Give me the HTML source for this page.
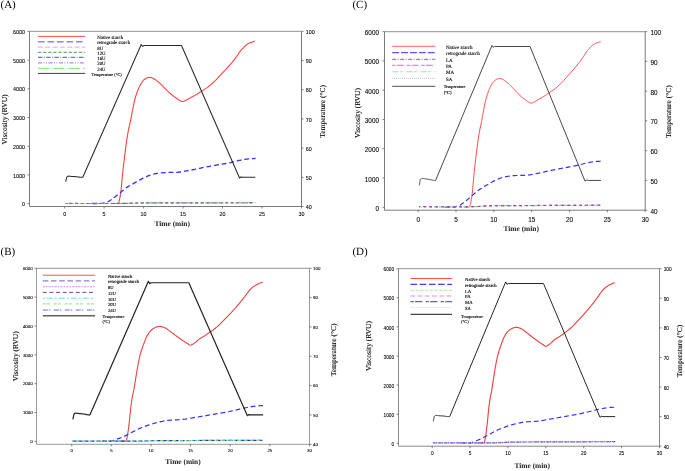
<!DOCTYPE html>
<html><head><meta charset="utf-8"><style>
html,body{margin:0;padding:0;background:#fff;}
svg{display:block;will-change:transform;}
.lg,.ti,.tb,.pl{text-rendering:geometricPrecision;}
.tk{font-family:"Liberation Sans",sans-serif;fill:#000;stroke:#000;stroke-width:0.08px;}
.ti{font-family:"Liberation Serif",serif;font-size:7.5px;fill:#000;stroke:#000;stroke-width:0.1px;}
.tb{font-family:"Liberation Serif",serif;font-size:7.4px;font-weight:bold;fill:#222;}
.pl{font-family:"Liberation Serif",serif;font-size:11px;fill:#000;}
.lg{font-family:"Liberation Serif",serif;fill:#000;stroke:#000;stroke-width:0.12px;}
</style></head><body>
<svg width="685" height="471" viewBox="0 0 685 471">
<rect width="685" height="471" fill="#fff"/>
<path d="M29.5,31.4 H301.5" stroke="#a8a8a8" stroke-width="1.2" fill="none"/>
<path d="M29.5,31.4 V206.5 H301.5 V31.4" stroke="#7a7a7a" stroke-width="1.0" fill="none"/>
<text x="25.00" y="206.26" text-anchor="end" class="tk" font-size="5.35">0</text>
<text x="25.00" y="177.55" text-anchor="end" class="tk" font-size="5.35">1000</text>
<text x="25.00" y="148.85" text-anchor="end" class="tk" font-size="5.35">2000</text>
<text x="25.00" y="120.14" text-anchor="end" class="tk" font-size="5.35">3000</text>
<text x="25.00" y="91.44" text-anchor="end" class="tk" font-size="5.35">4000</text>
<text x="25.00" y="62.73" text-anchor="end" class="tk" font-size="5.35">5000</text>
<text x="25.00" y="34.03" text-anchor="end" class="tk" font-size="5.35">6000</text>
<text x="305.80" y="209.13" class="tk" font-size="5.35">40</text>
<text x="305.80" y="179.94" class="tk" font-size="5.35">50</text>
<text x="305.80" y="150.76" class="tk" font-size="5.35">60</text>
<text x="305.80" y="121.58" class="tk" font-size="5.35">70</text>
<text x="305.80" y="92.39" class="tk" font-size="5.35">80</text>
<text x="305.80" y="63.21" class="tk" font-size="5.35">90</text>
<text x="305.80" y="34.03" class="tk" font-size="5.35">100</text>
<text x="64.63" y="215.73" text-anchor="middle" class="tk" font-size="5.35">0</text>
<text x="104.11" y="215.73" text-anchor="middle" class="tk" font-size="5.35">5</text>
<text x="143.59" y="215.73" text-anchor="middle" class="tk" font-size="5.35">10</text>
<text x="183.07" y="215.73" text-anchor="middle" class="tk" font-size="5.35">15</text>
<text x="222.54" y="215.73" text-anchor="middle" class="tk" font-size="5.35">20</text>
<text x="262.02" y="215.73" text-anchor="middle" class="tk" font-size="5.35">25</text>
<text x="301.50" y="215.73" text-anchor="middle" class="tk" font-size="5.35">30</text>
<path d="M27.50,203.63 H29.5 M27.50,174.92 H29.5 M27.50,146.22 H29.5 M27.50,117.51 H29.5 M27.50,88.81 H29.5 M27.50,60.10 H29.5 M27.50,31.40 H29.5 M301.5,206.50 H303.50 M301.5,177.32 H303.50 M301.5,148.13 H303.50 M301.5,118.95 H303.50 M301.5,89.77 H303.50 M301.5,60.58 H303.50 M301.5,31.40 H303.50 M64.63,206.5 V208.50 M104.11,206.5 V208.50 M143.59,206.5 V208.50 M183.07,206.5 V208.50 M222.54,206.5 V208.50 M262.02,206.5 V208.50 M301.50,206.5 V208.50" stroke="#606060" stroke-width="0.8" fill="none"/>
<text transform="translate(4.2,119.4) rotate(-90)" text-anchor="middle" dominant-baseline="central" class="ti">Viscosity (RVU)</text>
<text transform="translate(322.1,111.4) rotate(-90)" text-anchor="middle" dominant-baseline="central" class="ti">Temperature (°C)</text>
<text x="172.2" y="223.0" text-anchor="middle" dominant-baseline="central" class="tb">Time (min)</text>
<text x="0.5" y="8.2" class="pl">(A)</text>
<path d="M112.01,203.49 L112.33,203.49 L112.77,203.49 L113.30,203.49 L113.87,203.49 L114.46,203.49 L115.03,203.49 L115.54,203.49 L115.96,203.49 L116.28,203.48 L116.57,203.48 L116.81,203.48 L117.02,203.48 L117.20,203.48 L117.37,203.46 L117.53,203.44 L117.69,203.40 L117.84,203.37 L117.97,203.35 L118.08,203.33 L118.18,203.29 L118.27,203.24 L118.36,203.14 L118.45,202.99 L118.56,202.77 L118.68,202.48 L118.80,202.12 L118.92,201.71 L119.04,201.26 L119.16,200.78 L119.28,200.29 L119.40,199.80 L119.51,199.32 L119.61,198.87 L119.71,198.45 L119.81,198.02 L119.90,197.58 L119.99,197.11 L120.09,196.59 L120.19,195.99 L120.30,195.31 L120.42,194.53 L120.54,193.69 L120.67,192.78 L120.80,191.81 L120.94,190.80 L121.07,189.75 L121.20,188.66 L121.32,187.55 L121.45,186.41 L121.57,185.20 L121.68,183.94 L121.80,182.66 L121.91,181.35 L122.03,180.04 L122.15,178.74 L122.27,177.45 L122.39,176.19 L122.51,174.95 L122.63,173.71 L122.75,172.47 L122.88,171.21 L123.01,169.93 L123.15,168.60 L123.30,167.23 L123.46,165.80 L123.64,164.32 L123.82,162.80 L124.01,161.26 L124.21,159.70 L124.41,158.13 L124.60,156.57 L124.80,155.03 L124.99,153.51 L125.18,151.98 L125.37,150.45 L125.56,148.92 L125.75,147.39 L125.95,145.87 L126.16,144.34 L126.38,142.80 L126.60,141.26 L126.83,139.71 L127.07,138.14 L127.31,136.58 L127.56,135.03 L127.82,133.50 L128.08,131.99 L128.35,130.52 L128.64,129.06 L128.95,127.61 L129.28,126.17 L129.61,124.76 L129.93,123.37 L130.24,122.03 L130.54,120.75 L130.80,119.52 L131.03,118.40 L131.22,117.37 L131.40,116.41 L131.56,115.48 L131.73,114.56 L131.90,113.61 L132.08,112.59 L132.30,111.49 L132.54,110.26 L132.80,108.94 L133.08,107.55 L133.37,106.14 L133.66,104.73 L133.95,103.36 L134.23,102.06 L134.51,100.87 L134.78,99.77 L135.05,98.74 L135.32,97.76 L135.58,96.83 L135.85,95.94 L136.11,95.09 L136.38,94.26 L136.64,93.46 L136.91,92.69 L137.18,91.96 L137.44,91.27 L137.71,90.61 L137.98,89.97 L138.25,89.35 L138.51,88.75 L138.77,88.15 L139.03,87.57 L139.28,87.01 L139.52,86.47 L139.77,85.94 L140.01,85.43 L140.27,84.93 L140.54,84.43 L140.83,83.93 L141.13,83.43 L141.44,82.93 L141.76,82.43 L142.09,81.94 L142.44,81.46 L142.79,81.01 L143.14,80.59 L143.51,80.20 L143.89,79.84 L144.28,79.51 L144.69,79.21 L145.10,78.93 L145.52,78.67 L145.93,78.44 L146.34,78.23 L146.75,78.05 L147.15,77.89 L147.54,77.75 L147.93,77.64 L148.33,77.55 L148.72,77.49 L149.11,77.45 L149.51,77.44 L149.91,77.44 L150.31,77.47 L150.71,77.53 L151.12,77.62 L151.53,77.72 L151.94,77.85 L152.34,78.00 L152.75,78.16 L153.14,78.33 L153.53,78.52 L153.91,78.73 L154.28,78.96 L154.65,79.20 L155.02,79.47 L155.41,79.74 L155.80,80.03 L156.22,80.34 L156.66,80.66 L157.11,81.00 L157.57,81.35 L158.05,81.71 L158.53,82.10 L159.02,82.50 L159.52,82.92 L160.01,83.36 L160.52,83.82 L161.03,84.32 L161.55,84.84 L162.07,85.37 L162.60,85.92 L163.13,86.46 L163.66,87.01 L164.20,87.55 L164.73,88.08 L165.28,88.63 L165.82,89.18 L166.37,89.73 L166.92,90.28 L167.46,90.82 L168.00,91.34 L168.54,91.85 L169.07,92.35 L169.60,92.84 L170.12,93.32 L170.64,93.78 L171.16,94.24 L171.68,94.69 L172.20,95.13 L172.72,95.56 L173.25,95.97 L173.79,96.38 L174.34,96.78 L174.88,97.16 L175.41,97.54 L175.93,97.90 L176.43,98.24 L176.91,98.57 L177.36,98.88 L177.80,99.19 L178.22,99.48 L178.62,99.75 L179.01,100.01 L179.40,100.25 L179.77,100.47 L180.15,100.66 L180.51,100.85 L180.86,101.02 L181.20,101.17 L181.53,101.30 L181.85,101.41 L182.18,101.49 L182.50,101.54 L182.83,101.55 L183.14,101.54 L183.42,101.49 L183.68,101.42 L183.95,101.32 L184.24,101.18 L184.58,101.02 L184.97,100.82 L185.44,100.58 L185.99,100.29 L186.62,99.96 L187.30,99.58 L188.03,99.17 L188.78,98.75 L189.54,98.32 L190.30,97.89 L191.04,97.48 L191.77,97.08 L192.52,96.68 L193.27,96.28 L194.03,95.87 L194.79,95.46 L195.54,95.04 L196.30,94.62 L197.04,94.18 L197.78,93.73 L198.51,93.27 L199.24,92.80 L199.96,92.32 L200.69,91.84 L201.42,91.35 L202.15,90.85 L202.89,90.36 L203.63,89.87 L204.38,89.38 L205.13,88.89 L205.88,88.40 L206.63,87.89 L207.39,87.37 L208.14,86.82 L208.89,86.26 L209.63,85.66 L210.37,85.05 L211.11,84.42 L211.85,83.77 L212.59,83.11 L213.33,82.43 L214.07,81.74 L214.81,81.03 L215.55,80.30 L216.29,79.55 L217.02,78.79 L217.76,78.01 L218.50,77.22 L219.24,76.42 L219.99,75.62 L220.73,74.83 L221.48,74.04 L222.23,73.25 L222.98,72.45 L223.73,71.65 L224.48,70.84 L225.23,70.03 L225.98,69.22 L226.73,68.40 L227.48,67.57 L228.25,66.73 L229.02,65.88 L229.78,65.02 L230.54,64.18 L231.27,63.34 L231.98,62.51 L232.65,61.71 L233.29,60.93 L233.91,60.15 L234.51,59.38 L235.08,58.62 L235.64,57.88 L236.17,57.16 L236.67,56.47 L237.15,55.80 L237.60,55.16 L238.01,54.54 L238.39,53.95 L238.75,53.38 L239.10,52.82 L239.44,52.29 L239.79,51.78 L240.15,51.29 L240.52,50.83 L240.89,50.40 L241.25,49.99 L241.61,49.61 L241.98,49.23 L242.34,48.86 L242.70,48.49 L243.07,48.11 L243.44,47.71 L243.82,47.31 L244.19,46.91 L244.57,46.52 L244.95,46.13 L245.32,45.76 L245.70,45.41 L246.07,45.09 L246.45,44.80 L246.83,44.52 L247.20,44.26 L247.58,44.02 L247.95,43.80 L248.33,43.59 L248.70,43.39 L249.07,43.20 L249.44,43.02 L249.81,42.86 L250.17,42.72 L250.53,42.59 L250.90,42.47 L251.26,42.35 L251.63,42.23 L252.00,42.11 L252.39,41.98 L252.81,41.84 L253.25,41.71 L253.68,41.58 L254.09,41.46 L254.45,41.35 L254.76,41.26 L255.00,41.19" stroke="#ff4040" stroke-width="1.1" fill="none"/>
<path d="M92.27,203.49 L92.70,203.49 L93.29,203.49 L93.99,203.49 L94.77,203.49 L95.57,203.50 L96.37,203.50 L97.13,203.49 L97.80,203.49 L98.39,203.48 L98.97,203.48 L99.52,203.47 L100.05,203.47 L100.56,203.46 L101.07,203.43 L101.57,203.40 L102.06,203.34 L102.55,203.27 L103.02,203.19 L103.48,203.09 L103.93,202.99 L104.37,202.87 L104.82,202.75 L105.25,202.62 L105.69,202.48 L106.11,202.35 L106.50,202.24 L106.87,202.12 L107.25,202.00 L107.64,201.84 L108.07,201.65 L108.55,201.41 L109.09,201.10 L109.70,200.72 L110.38,200.28 L111.10,199.79 L111.86,199.26 L112.63,198.70 L113.41,198.13 L114.18,197.56 L114.93,197.00 L115.66,196.44 L116.39,195.86 L117.12,195.28 L117.86,194.68 L118.59,194.08 L119.32,193.48 L120.05,192.88 L120.77,192.29 L121.50,191.69 L122.21,191.09 L122.93,190.47 L123.65,189.86 L124.37,189.26 L125.09,188.68 L125.81,188.11 L126.54,187.58 L127.26,187.09 L127.98,186.64 L128.70,186.20 L129.42,185.79 L130.15,185.38 L130.90,184.97 L131.66,184.54 L132.46,184.08 L133.28,183.60 L134.14,183.10 L135.01,182.59 L135.90,182.07 L136.80,181.55 L137.70,181.04 L138.60,180.54 L139.48,180.06 L140.36,179.59 L141.24,179.13 L142.12,178.66 L143.00,178.21 L143.88,177.77 L144.76,177.35 L145.64,176.94 L146.51,176.56 L147.38,176.20 L148.25,175.85 L149.12,175.52 L149.99,175.21 L150.85,174.92 L151.72,174.64 L152.59,174.38 L153.46,174.15 L154.33,173.94 L155.21,173.75 L156.09,173.59 L156.97,173.44 L157.85,173.31 L158.73,173.19 L159.61,173.08 L160.49,172.97 L161.34,172.87 L162.16,172.79 L162.97,172.72 L163.78,172.65 L164.62,172.60 L165.51,172.55 L166.47,172.50 L167.51,172.46 L168.68,172.42 L169.96,172.41 L171.31,172.41 L172.71,172.40 L174.11,172.40 L175.49,172.37 L176.80,172.33 L178.01,172.26 L179.13,172.15 L180.17,172.01 L181.17,171.86 L182.13,171.68 L183.07,171.50 L184.00,171.32 L184.94,171.14 L185.91,170.96 L186.89,170.79 L187.87,170.63 L188.84,170.46 L189.82,170.29 L190.79,170.11 L191.77,169.93 L192.75,169.75 L193.73,169.56 L194.71,169.36 L195.69,169.15 L196.68,168.94 L197.67,168.72 L198.66,168.50 L199.65,168.28 L200.63,168.07 L201.62,167.86 L202.61,167.66 L203.60,167.47 L204.58,167.28 L205.57,167.08 L206.56,166.90 L207.54,166.71 L208.53,166.53 L209.52,166.34 L210.50,166.16 L211.49,165.98 L212.48,165.80 L213.47,165.63 L214.45,165.46 L215.44,165.28 L216.43,165.11 L217.41,164.94 L218.40,164.76 L219.38,164.59 L220.37,164.43 L221.36,164.26 L222.34,164.09 L223.33,163.92 L224.32,163.74 L225.31,163.56 L226.30,163.37 L227.30,163.18 L228.30,162.98 L229.31,162.79 L230.31,162.58 L231.30,162.38 L232.30,162.17 L233.28,161.95 L234.26,161.72 L235.23,161.48 L236.19,161.23 L237.16,160.98 L238.12,160.73 L239.08,160.49 L240.05,160.26 L241.02,160.06 L242.01,159.87 L243.01,159.69 L244.03,159.52 L245.04,159.36 L246.04,159.21 L247.03,159.08 L247.99,158.96 L248.92,158.85 L249.85,158.76 L250.82,158.68 L251.79,158.62 L252.73,158.57 L253.60,158.53 L254.39,158.50 L255.05,158.47 L255.55,158.45" stroke="#3030ff" stroke-width="1.3" fill="none" stroke-dasharray="4.8,2.9"/>
<path d="M65.42,203.49 L69.86,203.49 L76.03,203.50 L83.39,203.51 L91.43,203.52 L99.62,203.52 L107.45,203.52 L114.38,203.51 L119.90,203.49 L123.82,203.45 L126.54,203.39 L128.46,203.32 L129.97,203.25 L131.45,203.18 L133.30,203.11 L135.90,203.04 L139.64,203.00 L144.46,202.97 L149.95,202.94 L156.00,202.93 L162.51,202.92 L169.38,202.91 L176.48,202.90 L183.71,202.89 L190.96,202.88 L198.82,202.87 L207.64,202.85 L216.97,202.84 L226.34,202.82 L235.32,202.80 L243.44,202.79 L250.26,202.78 L255.31,202.77" stroke="#40c040" stroke-width="1.2" fill="none" stroke-dasharray="3,2" stroke-dashoffset="0"/>
<path d="M65.42,203.46 L69.86,203.46 L76.03,203.47 L83.39,203.48 L91.43,203.49 L99.62,203.50 L107.45,203.49 L114.38,203.48 L119.90,203.46 L123.82,203.41 L126.54,203.36 L128.46,203.28 L129.97,203.21 L131.45,203.13 L133.30,203.05 L135.90,202.99 L139.64,202.94 L144.46,202.91 L149.95,202.88 L156.00,202.87 L162.51,202.86 L169.38,202.85 L176.48,202.85 L183.71,202.84 L190.96,202.83 L198.82,202.81 L207.64,202.79 L216.97,202.78 L226.34,202.76 L235.32,202.75 L243.44,202.73 L250.26,202.72 L255.31,202.71" stroke="#a050d0" stroke-width="1.2" fill="none" stroke-dasharray="3,3" stroke-dashoffset="2.5"/>
<path d="M65.74,181.69 L65.79,181.44 L65.86,181.08 L65.94,180.65 L66.03,180.20 L66.12,179.76 L66.21,179.36 L66.31,178.99 L66.40,178.62 L66.50,178.26 L66.61,177.91 L66.72,177.59 L66.85,177.32 L66.98,177.08 L67.11,176.87 L67.26,176.69 L67.42,176.53 L67.60,176.40 L67.79,176.30 L68.01,176.22 L68.24,176.17 L68.49,176.14 L68.76,176.13 L69.06,176.14 L69.37,176.15 L69.69,176.17 L70.02,176.21 L70.36,176.27 L70.75,176.33 L71.20,176.39 L71.74,176.44 L72.40,176.49 L73.17,176.53 L74.01,176.57 L74.87,176.62 L75.71,176.67 L76.48,176.73 L77.20,176.81 L77.91,176.91 L78.60,177.01 L79.26,177.11 L79.87,177.20 L80.43,177.26 L80.94,177.30 L81.42,177.31 L81.86,177.32 L82.24,177.32 L82.56,177.32 L82.79,177.32 L141.22,44.53 L142.56,46.43 L143.98,45.52 L181.49,45.52 L239.52,178.05 L240.70,177.02 L243.47,177.32 L255.31,177.32" stroke="#2a2a2a" stroke-width="1.05" fill="none" stroke-linejoin="round"/>
<path d="M38,36.4 H85.2" stroke="#ff5050" stroke-width="1.0" fill="none"/>
<text x="97.2" y="38.87" class="lg" font-size="4.9">Native starch</text>
<path d="M38,41.7 H85.2" stroke="#8888ee" stroke-width="1.6" fill="none" stroke-dasharray="6.6,2.9"/>
<text x="97.2" y="44.17" class="lg" font-size="4.9">retrograde starch</text>
<path d="M38,47.2 H85.2" stroke="#f0a0f0" stroke-width="1.0" fill="none" stroke-dasharray="5,2.3"/>
<text x="97.2" y="49.67" class="lg" font-size="4.9">8U</text>
<path d="M38,52.3 H85.2" stroke="#40a040" stroke-width="1.0" fill="none" stroke-dasharray="3.3,1.8"/>
<text x="97.2" y="54.77" class="lg" font-size="4.9">12U</text>
<path d="M38,57.4 H85.2" stroke="#7070c8" stroke-width="1.2" fill="none" stroke-dasharray="4.4,1.5,0.8,1.5"/>
<text x="97.2" y="59.87" class="lg" font-size="4.9">16U</text>
<path d="M38,62.8 H85.2" stroke="#b090d0" stroke-width="1.2" fill="none" stroke-dasharray="4,1.5,1,1.5,1,1.5"/>
<text x="97.2" y="65.27" class="lg" font-size="4.9">20U</text>
<path d="M38,68.4 H85.2" stroke="#70f070" stroke-width="1.0" fill="none" stroke-dasharray="5.8,0.7,5,3.6"/>
<text x="97.2" y="70.87" class="lg" font-size="4.9">24U</text>
<path d="M38,73.4 H85.2" stroke="#404040" stroke-width="1.0" fill="none"/>
<text x="91.6" y="75.99" class="lg" font-size="4.3">Temperature (°C)</text>
<path d="M36.5,268.3 H309.5" stroke="#a8a8a8" stroke-width="1.2" fill="none"/>
<path d="M36.5,268.3 V444.3 H309.5 V268.3" stroke="#999999" stroke-width="1.0" fill="none"/>
<text x="32.70" y="443.20" text-anchor="end" class="tk" font-size="4.4">0</text>
<text x="32.70" y="414.35" text-anchor="end" class="tk" font-size="4.4">1000</text>
<text x="32.70" y="385.49" text-anchor="end" class="tk" font-size="4.4">2000</text>
<text x="32.70" y="356.64" text-anchor="end" class="tk" font-size="4.4">3000</text>
<text x="32.70" y="327.79" text-anchor="end" class="tk" font-size="4.4">4000</text>
<text x="32.70" y="298.94" text-anchor="end" class="tk" font-size="4.4">5000</text>
<text x="32.70" y="270.08" text-anchor="end" class="tk" font-size="4.4">6000</text>
<text x="313.10" y="446.08" class="tk" font-size="4.4">40</text>
<text x="313.10" y="416.75" class="tk" font-size="4.4">50</text>
<text x="313.10" y="387.42" class="tk" font-size="4.4">60</text>
<text x="313.10" y="358.08" class="tk" font-size="4.4">70</text>
<text x="313.10" y="328.75" class="tk" font-size="4.4">80</text>
<text x="313.10" y="299.42" class="tk" font-size="4.4">90</text>
<text x="313.10" y="270.08" class="tk" font-size="4.4">100</text>
<text x="71.76" y="451.78" text-anchor="middle" class="tk" font-size="4.4">0</text>
<text x="111.39" y="451.78" text-anchor="middle" class="tk" font-size="4.4">5</text>
<text x="151.01" y="451.78" text-anchor="middle" class="tk" font-size="4.4">10</text>
<text x="190.63" y="451.78" text-anchor="middle" class="tk" font-size="4.4">15</text>
<text x="230.25" y="451.78" text-anchor="middle" class="tk" font-size="4.4">20</text>
<text x="269.88" y="451.78" text-anchor="middle" class="tk" font-size="4.4">25</text>
<text x="309.50" y="451.78" text-anchor="middle" class="tk" font-size="4.4">30</text>
<path d="M34.50,441.41 H36.5 M34.50,412.56 H36.5 M34.50,383.71 H36.5 M34.50,354.86 H36.5 M34.50,326.00 H36.5 M34.50,297.15 H36.5 M34.50,268.30 H36.5 M309.5,444.30 H311.50 M309.5,414.97 H311.50 M309.5,385.63 H311.50 M309.5,356.30 H311.50 M309.5,326.97 H311.50 M309.5,297.63 H311.50 M309.5,268.30 H311.50 M71.76,444.3 V446.30 M111.39,444.3 V446.30 M151.01,444.3 V446.30 M190.63,444.3 V446.30 M230.25,444.3 V446.30 M269.88,444.3 V446.30 M309.50,444.3 V446.30" stroke="#606060" stroke-width="0.8" fill="none"/>
<text transform="translate(15.3,356.2) rotate(-90)" text-anchor="middle" dominant-baseline="central" class="ti">Viscosity (RVU)</text>
<text transform="translate(333.1,349.9) rotate(-90)" text-anchor="middle" dominant-baseline="central" class="ti">Temperature (°C)</text>
<text x="183.0" y="461.1" text-anchor="middle" dominant-baseline="central" class="tb">Time (min)</text>
<text x="0.5" y="254.8" class="pl">(B)</text>
<path d="M119.31,441.13 L119.63,441.13 L120.07,441.13 L120.59,441.13 L121.17,441.14 L121.76,441.14 L122.33,441.14 L122.85,441.13 L123.27,441.13 L123.62,441.12 L123.93,441.12 L124.20,441.12 L124.44,441.12 L124.66,441.11 L124.86,441.08 L125.06,441.04 L125.25,440.98 L125.44,440.93 L125.61,440.89 L125.76,440.85 L125.90,440.79 L126.04,440.69 L126.17,440.54 L126.30,440.30 L126.44,439.97 L126.59,439.55 L126.72,439.04 L126.86,438.47 L127.00,437.84 L127.13,437.15 L127.27,436.41 L127.41,435.63 L127.55,434.81 L127.70,433.94 L127.84,433.02 L127.99,432.05 L128.14,431.03 L128.29,429.97 L128.44,428.87 L128.59,427.74 L128.74,426.58 L128.89,425.38 L129.04,424.12 L129.19,422.81 L129.34,421.48 L129.49,420.12 L129.64,418.76 L129.79,417.41 L129.93,416.08 L130.07,414.75 L130.21,413.40 L130.35,412.04 L130.48,410.69 L130.62,409.35 L130.76,408.05 L130.90,406.78 L131.04,405.58 L131.18,404.43 L131.32,403.33 L131.47,402.27 L131.61,401.25 L131.76,400.25 L131.91,399.27 L132.06,398.31 L132.23,397.36 L132.40,396.46 L132.57,395.63 L132.75,394.85 L132.94,394.07 L133.13,393.27 L133.32,392.41 L133.52,391.46 L133.73,390.37 L133.95,389.15 L134.18,387.81 L134.42,386.38 L134.66,384.89 L134.91,383.37 L135.15,381.84 L135.40,380.33 L135.64,378.86 L135.87,377.42 L136.11,375.96 L136.35,374.50 L136.59,373.05 L136.82,371.60 L137.06,370.19 L137.30,368.80 L137.54,367.47 L137.77,366.17 L138.01,364.89 L138.24,363.64 L138.48,362.43 L138.71,361.24 L138.95,360.08 L139.19,358.95 L139.44,357.86 L139.68,356.81 L139.93,355.82 L140.17,354.86 L140.42,353.93 L140.67,353.02 L140.93,352.10 L141.21,351.18 L141.50,350.24 L141.81,349.28 L142.14,348.30 L142.48,347.31 L142.84,346.33 L143.20,345.36 L143.56,344.39 L143.92,343.45 L144.27,342.54 L144.62,341.64 L144.96,340.76 L145.30,339.89 L145.64,339.04 L145.98,338.21 L146.34,337.40 L146.72,336.61 L147.13,335.84 L147.55,335.09 L147.99,334.36 L148.44,333.64 L148.90,332.94 L149.39,332.27 L149.88,331.63 L150.40,331.03 L150.93,330.48 L151.49,329.96 L152.07,329.47 L152.67,329.02 L153.29,328.60 L153.91,328.22 L154.54,327.88 L155.16,327.57 L155.76,327.30 L156.36,327.08 L156.96,326.89 L157.55,326.74 L158.14,326.62 L158.73,326.54 L159.33,326.50 L159.92,326.50 L160.52,326.52 L161.12,326.59 L161.73,326.70 L162.33,326.84 L162.94,327.02 L163.55,327.24 L164.15,327.47 L164.76,327.74 L165.35,328.02 L165.94,328.34 L166.53,328.70 L167.11,329.09 L167.69,329.51 L168.27,329.94 L168.85,330.38 L169.44,330.82 L170.03,331.26 L170.63,331.70 L171.23,332.15 L171.83,332.61 L172.44,333.08 L173.05,333.55 L173.66,334.01 L174.26,334.47 L174.86,334.92 L175.46,335.36 L176.05,335.79 L176.65,336.22 L177.24,336.65 L177.83,337.07 L178.42,337.49 L179.02,337.91 L179.62,338.32 L180.22,338.75 L180.84,339.18 L181.47,339.60 L182.09,340.03 L182.71,340.45 L183.31,340.86 L183.90,341.25 L184.45,341.61 L184.99,341.97 L185.51,342.31 L186.02,342.64 L186.51,342.96 L186.98,343.26 L187.43,343.54 L187.85,343.80 L188.25,344.04 L188.61,344.27 L188.90,344.50 L189.16,344.72 L189.41,344.92 L189.66,345.08 L189.93,345.19 L190.25,345.23 L190.63,345.19 L191.08,345.07 L191.57,344.87 L192.10,344.60 L192.66,344.29 L193.24,343.93 L193.83,343.55 L194.41,343.15 L194.99,342.74 L195.57,342.30 L196.15,341.82 L196.75,341.30 L197.35,340.76 L197.95,340.21 L198.55,339.68 L199.15,339.18 L199.75,338.73 L200.33,338.32 L200.92,337.95 L201.50,337.61 L202.08,337.28 L202.67,336.96 L203.25,336.63 L203.83,336.29 L204.42,335.93 L205.01,335.55 L205.60,335.16 L206.19,334.77 L206.79,334.37 L207.38,333.97 L207.98,333.56 L208.58,333.14 L209.18,332.73 L209.78,332.31 L210.38,331.89 L210.98,331.46 L211.59,331.03 L212.19,330.60 L212.80,330.15 L213.40,329.70 L214.01,329.24 L214.61,328.77 L215.22,328.29 L215.83,327.80 L216.43,327.31 L217.04,326.81 L217.64,326.30 L218.24,325.77 L218.84,325.23 L219.44,324.66 L220.04,324.08 L220.63,323.49 L221.23,322.88 L221.82,322.27 L222.41,321.65 L223.00,321.04 L223.60,320.44 L224.19,319.84 L224.78,319.24 L225.38,318.65 L225.97,318.05 L226.56,317.45 L227.16,316.85 L227.75,316.24 L228.35,315.62 L228.95,314.99 L229.56,314.35 L230.16,313.71 L230.77,313.06 L231.38,312.40 L231.98,311.75 L232.59,311.09 L233.19,310.42 L233.78,309.76 L234.38,309.10 L234.97,308.44 L235.56,307.77 L236.16,307.09 L236.75,306.41 L237.34,305.73 L237.94,305.03 L238.54,304.33 L239.14,303.62 L239.75,302.90 L240.35,302.18 L240.96,301.45 L241.57,300.71 L242.17,299.96 L242.78,299.20 L243.39,298.42 L244.00,297.60 L244.63,296.77 L245.25,295.93 L245.86,295.10 L246.46,294.29 L247.05,293.52 L247.61,292.80 L248.15,292.11 L248.66,291.45 L249.16,290.82 L249.65,290.21 L250.13,289.64 L250.61,289.09 L251.09,288.57 L251.57,288.09 L252.06,287.65 L252.55,287.26 L253.03,286.90 L253.51,286.57 L254.00,286.27 L254.48,285.97 L254.97,285.68 L255.45,285.38 L255.95,285.08 L256.46,284.79 L256.97,284.50 L257.48,284.23 L257.98,283.96 L258.47,283.72 L258.96,283.49 L259.42,283.27 L259.88,283.08 L260.36,282.90 L260.83,282.74 L261.29,282.59 L261.72,282.46 L262.10,282.35 L262.42,282.26 L262.67,282.18" stroke="#ee4242" stroke-width="1.1" fill="none"/>
<path d="M101.88,441.13 L102.31,441.13 L102.90,441.13 L103.60,441.13 L104.37,441.14 L105.18,441.14 L105.99,441.14 L106.75,441.13 L107.42,441.13 L108.02,441.13 L108.58,441.15 L109.11,441.17 L109.63,441.18 L110.15,441.18 L110.68,441.16 L111.25,441.09 L111.86,440.98 L112.52,440.82 L113.21,440.60 L113.93,440.35 L114.66,440.08 L115.41,439.79 L116.16,439.49 L116.91,439.19 L117.65,438.90 L118.38,438.63 L119.13,438.36 L119.87,438.09 L120.62,437.81 L121.37,437.52 L122.11,437.23 L122.85,436.92 L123.59,436.60 L124.32,436.25 L125.05,435.89 L125.77,435.52 L126.49,435.13 L127.21,434.75 L127.93,434.36 L128.65,433.97 L129.38,433.60 L130.10,433.23 L130.82,432.86 L131.54,432.50 L132.26,432.13 L132.98,431.77 L133.70,431.41 L134.43,431.05 L135.16,430.68 L135.90,430.31 L136.64,429.93 L137.38,429.55 L138.13,429.17 L138.88,428.80 L139.63,428.44 L140.37,428.09 L141.10,427.77 L141.83,427.47 L142.56,427.19 L143.28,426.92 L144.00,426.67 L144.72,426.43 L145.44,426.18 L146.16,425.94 L146.89,425.69 L147.62,425.43 L148.35,425.17 L149.09,424.92 L149.82,424.66 L150.56,424.41 L151.29,424.16 L152.02,423.92 L152.75,423.70 L153.48,423.49 L154.20,423.28 L154.93,423.09 L155.65,422.90 L156.37,422.72 L157.09,422.54 L157.82,422.37 L158.54,422.20 L159.26,422.03 L159.98,421.87 L160.70,421.71 L161.43,421.55 L162.15,421.40 L162.87,421.25 L163.60,421.12 L164.32,420.99 L165.05,420.86 L165.78,420.74 L166.52,420.63 L167.25,420.53 L167.99,420.43 L168.72,420.34 L169.46,420.25 L170.19,420.18 L170.90,420.12 L171.60,420.08 L172.29,420.04 L172.98,420.02 L173.68,419.99 L174.41,419.97 L175.17,419.93 L175.97,419.89 L176.82,419.84 L177.70,419.80 L178.60,419.75 L179.54,419.70 L180.49,419.64 L181.46,419.57 L182.44,419.48 L183.42,419.37 L184.42,419.24 L185.44,419.09 L186.47,418.92 L187.52,418.73 L188.58,418.55 L189.64,418.36 L190.69,418.17 L191.74,417.99 L192.79,417.81 L193.84,417.63 L194.89,417.46 L195.94,417.28 L196.99,417.10 L198.05,416.92 L199.09,416.75 L200.14,416.57 L201.19,416.40 L202.23,416.23 L203.27,416.05 L204.31,415.88 L205.35,415.71 L206.38,415.54 L207.42,415.36 L208.46,415.19 L209.50,415.01 L210.54,414.84 L211.59,414.66 L212.63,414.48 L213.67,414.30 L214.71,414.13 L215.75,413.95 L216.78,413.77 L217.82,413.60 L218.85,413.44 L219.87,413.27 L220.90,413.11 L221.93,412.94 L222.95,412.77 L223.99,412.58 L225.02,412.39 L226.07,412.18 L227.12,411.97 L228.17,411.74 L229.22,411.51 L230.27,411.28 L231.33,411.04 L232.38,410.81 L233.42,410.57 L234.47,410.34 L235.51,410.10 L236.55,409.86 L237.59,409.62 L238.63,409.38 L239.67,409.14 L240.71,408.90 L241.75,408.67 L242.79,408.43 L243.83,408.19 L244.87,407.95 L245.91,407.72 L246.95,407.49 L247.99,407.27 L249.03,407.06 L250.07,406.88 L251.12,406.71 L252.21,406.55 L253.31,406.41 L254.40,406.28 L255.46,406.16 L256.48,406.05 L257.44,405.95 L258.31,405.87 L259.11,405.80 L259.89,405.74 L260.61,405.69 L261.28,405.66 L261.88,405.64 L262.42,405.61 L262.86,405.60 L263.22,405.58" stroke="#3030ff" stroke-width="1.2" fill="none" stroke-dasharray="4.8,2.9"/>
<path d="M72.56,441.13 L77.68,441.13 L84.81,441.14 L93.33,441.15 L102.62,441.15 L112.07,441.16 L121.05,441.16 L128.95,441.15 L135.16,441.13 L139.52,441.09 L142.56,441.04 L144.68,440.99 L146.25,440.92 L147.68,440.86 L149.35,440.80 L151.65,440.74 L154.97,440.69 L159.14,440.66 L163.70,440.62 L168.65,440.60 L173.97,440.57 L179.63,440.55 L185.63,440.53 L191.94,440.50 L198.56,440.48 L206.07,440.45 L214.74,440.42 L224.08,440.39 L233.57,440.36 L242.73,440.33 L251.04,440.30 L258.02,440.28 L263.14,440.26" stroke="#3030c0" stroke-width="1.2" fill="none" stroke-dasharray="4,2" stroke-dashoffset="0"/>
<path d="M72.56,441.07 L77.68,441.07 L84.81,441.08 L93.33,441.09 L102.62,441.09 L112.07,441.10 L121.05,441.09 L128.95,441.09 L135.16,441.07 L139.52,441.04 L142.56,441.00 L144.68,440.95 L146.25,440.90 L147.68,440.84 L149.35,440.79 L151.65,440.74 L154.97,440.69 L159.14,440.66 L163.70,440.62 L168.65,440.59 L173.97,440.56 L179.63,440.53 L185.63,440.51 L191.94,440.48 L198.56,440.45 L206.07,440.42 L214.74,440.38 L224.08,440.35 L233.57,440.31 L242.73,440.28 L251.04,440.25 L258.02,440.22 L263.14,440.20" stroke="#50d0d0" stroke-width="1.2" fill="none" stroke-dasharray="2,4" stroke-dashoffset="1"/>
<path d="M72.56,441.13 L77.68,441.13 L84.81,441.14 L93.33,441.14 L102.62,441.15 L112.07,441.16 L121.05,441.15 L128.95,441.15 L135.16,441.13 L139.52,441.09 L142.56,441.05 L144.68,441.00 L146.25,440.94 L147.68,440.88 L149.35,440.82 L151.65,440.77 L154.97,440.72 L159.14,440.69 L163.70,440.65 L168.65,440.62 L173.97,440.60 L179.63,440.57 L185.63,440.55 L191.94,440.52 L198.56,440.49 L206.07,440.46 L214.74,440.43 L224.08,440.39 L233.57,440.36 L242.73,440.33 L251.04,440.30 L258.02,440.28 L263.14,440.26" stroke="#60e060" stroke-width="1.2" fill="none" stroke-dasharray="2,5" stroke-dashoffset="3.5"/>
<path d="M72.87,419.37 L72.92,419.11 L72.99,418.77 L73.07,418.36 L73.16,417.91 L73.26,417.46 L73.35,417.02 L73.44,416.58 L73.54,416.10 L73.64,415.62 L73.74,415.15 L73.86,414.73 L73.98,414.38 L74.12,414.11 L74.25,413.89 L74.40,413.71 L74.56,413.57 L74.74,413.45 L74.93,413.35 L75.15,413.27 L75.39,413.22 L75.64,413.20 L75.91,413.19 L76.20,413.20 L76.52,413.21 L76.84,413.23 L77.16,413.26 L77.51,413.31 L77.90,413.37 L78.35,413.43 L78.90,413.50 L79.56,413.57 L80.33,413.65 L81.17,413.73 L82.04,413.82 L82.88,413.91 L83.65,414.01 L84.38,414.13 L85.09,414.27 L85.78,414.42 L86.44,414.55 L87.05,414.67 L87.61,414.76 L88.13,414.81 L88.61,414.83 L89.05,414.84 L89.43,414.83 L89.75,414.82 L89.99,414.82 L148.39,281.21 L149.74,283.64 L151.17,282.73 L188.81,282.73 L247.37,415.70 L248.56,414.67 L251.33,414.97 L263.14,414.97" stroke="#222" stroke-width="1.2" fill="none" stroke-linejoin="round"/>
<path d="M42.8,275.2 H95.1" stroke="#ff5050" stroke-width="1.0" fill="none"/>
<text x="108.0" y="277.58" class="lg" font-size="4.6">Native starch</text>
<path d="M42.8,280.9 H95.1" stroke="#8080e8" stroke-width="1.4" fill="none" stroke-dasharray="5.6,2.6"/>
<text x="108.0" y="283.28" class="lg" font-size="4.6">retrograde starch</text>
<path d="M42.8,286.7 H95.1" stroke="#e070f0" stroke-width="1.0" fill="none" stroke-dasharray="2,1.3,1.3,1.3"/>
<text x="108.0" y="289.08" class="lg" font-size="4.6">8U</text>
<path d="M42.8,292.4 H95.1" stroke="#8040a0" stroke-width="1.0" fill="none" stroke-dasharray="4,2.6"/>
<text x="108.0" y="294.78" class="lg" font-size="4.6">12U</text>
<path d="M42.8,298.2 H95.1" stroke="#60e0e0" stroke-width="1.0" fill="none" stroke-dasharray="2,2,6,2"/>
<text x="108.0" y="300.58" class="lg" font-size="4.6">16U</text>
<path d="M42.8,303.9 H95.1" stroke="#80e080" stroke-width="1.0" fill="none" stroke-dasharray="3,1,3,4"/>
<text x="108.0" y="306.28" class="lg" font-size="4.6">20U</text>
<path d="M42.8,310.0 H95.1" stroke="#7070d0" stroke-width="1.2" fill="none" stroke-dasharray="5,1,1.5,3.5"/>
<text x="108.0" y="312.38" class="lg" font-size="4.6">24U</text>
<path d="M42.8,315.7 H95.1" stroke="#606060" stroke-width="1.6" fill="none"/>
<text x="102.4" y="317.82" class="lg" font-size="4.4">Temperature</text>
<text x="102.4" y="323.02" class="lg" font-size="4.4">(°C)</text>
<path d="M384.5,31.6 H645.2" stroke="#a8a8a8" stroke-width="1.2" fill="none"/>
<path d="M384.5,31.6 V210.2 H645.2 V31.6" stroke="#7a7a7a" stroke-width="1.0" fill="none"/>
<text x="379.00" y="210.78" text-anchor="end" class="tk" font-size="6.4">0</text>
<text x="379.00" y="181.50" text-anchor="end" class="tk" font-size="6.4">1000</text>
<text x="379.00" y="152.22" text-anchor="end" class="tk" font-size="6.4">2000</text>
<text x="379.00" y="122.94" text-anchor="end" class="tk" font-size="6.4">3000</text>
<text x="379.00" y="93.66" text-anchor="end" class="tk" font-size="6.4">4000</text>
<text x="379.00" y="64.38" text-anchor="end" class="tk" font-size="6.4">5000</text>
<text x="379.00" y="35.10" text-anchor="end" class="tk" font-size="6.4">6000</text>
<text x="650.50" y="213.70" class="tk" font-size="6.4">40</text>
<text x="650.50" y="183.94" class="tk" font-size="6.4">50</text>
<text x="650.50" y="154.17" class="tk" font-size="6.4">60</text>
<text x="650.50" y="124.40" class="tk" font-size="6.4">70</text>
<text x="650.50" y="94.64" class="tk" font-size="6.4">80</text>
<text x="650.50" y="64.87" class="tk" font-size="6.4">90</text>
<text x="650.50" y="35.10" class="tk" font-size="6.4">100</text>
<text x="418.18" y="222.00" text-anchor="middle" class="tk" font-size="6.4">0</text>
<text x="456.01" y="222.00" text-anchor="middle" class="tk" font-size="6.4">5</text>
<text x="493.85" y="222.00" text-anchor="middle" class="tk" font-size="6.4">10</text>
<text x="531.69" y="222.00" text-anchor="middle" class="tk" font-size="6.4">15</text>
<text x="569.53" y="222.00" text-anchor="middle" class="tk" font-size="6.4">20</text>
<text x="607.36" y="222.00" text-anchor="middle" class="tk" font-size="6.4">25</text>
<text x="645.20" y="222.00" text-anchor="middle" class="tk" font-size="6.4">30</text>
<path d="M382.50,207.27 H384.5 M382.50,177.99 H384.5 M382.50,148.71 H384.5 M382.50,119.44 H384.5 M382.50,90.16 H384.5 M382.50,60.88 H384.5 M382.50,31.60 H384.5 M645.2,210.20 H647.20 M645.2,180.43 H647.20 M645.2,150.67 H647.20 M645.2,120.90 H647.20 M645.2,91.13 H647.20 M645.2,61.37 H647.20 M645.2,31.60 H647.20 M418.18,210.2 V212.20 M456.01,210.2 V212.20 M493.85,210.2 V212.20 M531.69,210.2 V212.20 M569.53,210.2 V212.20 M607.36,210.2 V212.20 M645.20,210.2 V212.20" stroke="#606060" stroke-width="0.8" fill="none"/>
<text transform="translate(357.0,113.0) rotate(-90)" text-anchor="middle" dominant-baseline="central" class="ti">Viscosity (RVU)</text>
<text transform="translate(668.2,111.7) rotate(-90)" text-anchor="middle" dominant-baseline="central" class="ti">Temperature (°C)</text>
<text x="521.2" y="228.8" text-anchor="middle" dominant-baseline="central" class="tb">Time (min)</text>
<text x="352.4" y="8.3" class="pl">(C)</text>
<path d="M463.58,207.13 L463.89,207.13 L464.31,207.13 L464.82,207.13 L465.37,207.13 L465.93,207.13 L466.48,207.13 L466.97,207.13 L467.36,207.13 L467.68,207.12 L467.95,207.12 L468.18,207.12 L468.38,207.12 L468.56,207.12 L468.72,207.10 L468.88,207.08 L469.03,207.04 L469.17,207.00 L469.29,206.98 L469.40,206.96 L469.49,206.93 L469.58,206.87 L469.67,206.77 L469.76,206.62 L469.86,206.39 L469.97,206.10 L470.09,205.73 L470.20,205.31 L470.32,204.85 L470.44,204.37 L470.55,203.87 L470.66,203.37 L470.77,202.88 L470.87,202.42 L470.96,201.99 L471.05,201.55 L471.14,201.11 L471.23,200.62 L471.32,200.09 L471.42,199.48 L471.53,198.78 L471.64,197.99 L471.76,197.13 L471.88,196.20 L472.01,195.22 L472.14,194.18 L472.26,193.11 L472.39,192.01 L472.51,190.88 L472.63,189.70 L472.74,188.47 L472.85,187.19 L472.96,185.88 L473.08,184.55 L473.19,183.21 L473.30,181.88 L473.42,180.57 L473.53,179.29 L473.65,178.02 L473.76,176.76 L473.88,175.49 L474.00,174.21 L474.12,172.90 L474.26,171.55 L474.40,170.15 L474.56,168.69 L474.73,167.18 L474.90,165.63 L475.09,164.05 L475.27,162.46 L475.46,160.86 L475.65,159.27 L475.84,157.70 L476.02,156.15 L476.20,154.59 L476.38,153.03 L476.57,151.47 L476.75,149.91 L476.95,148.35 L477.15,146.79 L477.35,145.23 L477.57,143.66 L477.79,142.07 L478.01,140.48 L478.25,138.89 L478.49,137.30 L478.73,135.74 L478.98,134.20 L479.24,132.70 L479.52,131.21 L479.82,129.73 L480.13,128.27 L480.45,126.82 L480.76,125.41 L481.06,124.05 L481.34,122.73 L481.59,121.49 L481.81,120.33 L482.00,119.29 L482.17,118.31 L482.32,117.36 L482.48,116.42 L482.64,115.45 L482.82,114.42 L483.03,113.29 L483.26,112.04 L483.51,110.69 L483.78,109.27 L484.05,107.83 L484.33,106.39 L484.61,104.99 L484.88,103.67 L485.15,102.45 L485.41,101.34 L485.66,100.29 L485.92,99.29 L486.17,98.34 L486.43,97.43 L486.68,96.56 L486.94,95.72 L487.19,94.90 L487.45,94.11 L487.70,93.37 L487.96,92.66 L488.22,91.99 L488.47,91.34 L488.73,90.71 L488.98,90.09 L489.23,89.48 L489.48,88.89 L489.72,88.32 L489.95,87.77 L490.18,87.23 L490.42,86.71 L490.67,86.19 L490.93,85.69 L491.20,85.18 L491.49,84.67 L491.79,84.16 L492.10,83.65 L492.42,83.15 L492.74,82.66 L493.08,82.20 L493.42,81.77 L493.77,81.37 L494.14,81.01 L494.51,80.67 L494.90,80.36 L495.30,80.08 L495.70,79.81 L496.09,79.58 L496.49,79.37 L496.88,79.18 L497.26,79.01 L497.64,78.88 L498.01,78.76 L498.39,78.68 L498.77,78.61 L499.14,78.57 L499.52,78.56 L499.90,78.56 L500.29,78.60 L500.68,78.66 L501.07,78.74 L501.46,78.85 L501.85,78.98 L502.24,79.13 L502.63,79.29 L503.01,79.47 L503.38,79.67 L503.74,79.88 L504.09,80.11 L504.45,80.36 L504.81,80.63 L505.18,80.91 L505.56,81.21 L505.96,81.52 L506.38,81.85 L506.81,82.19 L507.25,82.55 L507.71,82.92 L508.17,83.31 L508.64,83.72 L509.11,84.15 L509.59,84.59 L510.07,85.07 L510.56,85.58 L511.06,86.10 L511.56,86.65 L512.07,87.20 L512.58,87.76 L513.09,88.32 L513.60,88.87 L514.12,89.42 L514.63,89.97 L515.16,90.53 L515.68,91.10 L516.21,91.65 L516.73,92.20 L517.25,92.74 L517.76,93.26 L518.27,93.77 L518.78,94.26 L519.28,94.75 L519.78,95.23 L520.28,95.70 L520.78,96.16 L521.27,96.60 L521.77,97.04 L522.28,97.46 L522.80,97.88 L523.32,98.28 L523.84,98.68 L524.35,99.06 L524.85,99.43 L525.33,99.78 L525.79,100.11 L526.22,100.43 L526.64,100.74 L527.04,101.04 L527.43,101.32 L527.80,101.58 L528.17,101.82 L528.53,102.05 L528.89,102.25 L529.24,102.43 L529.57,102.61 L529.89,102.76 L530.21,102.90 L530.52,103.01 L530.84,103.09 L531.15,103.14 L531.46,103.16 L531.76,103.14 L532.02,103.09 L532.28,103.02 L532.53,102.91 L532.81,102.78 L533.13,102.61 L533.51,102.40 L533.96,102.16 L534.49,101.87 L535.09,101.53 L535.75,101.14 L536.44,100.73 L537.16,100.30 L537.89,99.86 L538.62,99.42 L539.33,99.00 L540.03,98.59 L540.75,98.18 L541.47,97.78 L542.19,97.36 L542.92,96.94 L543.65,96.52 L544.37,96.08 L545.08,95.63 L545.79,95.17 L546.49,94.70 L547.19,94.22 L547.88,93.74 L548.58,93.24 L549.27,92.74 L549.98,92.24 L550.68,91.74 L551.39,91.24 L552.11,90.74 L552.83,90.24 L553.55,89.73 L554.28,89.22 L555.00,88.69 L555.72,88.13 L556.43,87.55 L557.15,86.95 L557.86,86.32 L558.57,85.68 L559.28,85.02 L559.98,84.34 L560.69,83.65 L561.40,82.94 L562.11,82.22 L562.82,81.48 L563.53,80.72 L564.23,79.93 L564.94,79.14 L565.65,78.33 L566.36,77.52 L567.07,76.71 L567.78,75.90 L568.50,75.09 L569.22,74.28 L569.94,73.47 L570.66,72.65 L571.38,71.83 L572.10,71.00 L572.82,70.17 L573.54,69.34 L574.26,68.49 L574.99,67.63 L575.73,66.77 L576.46,65.90 L577.19,65.03 L577.89,64.17 L578.57,63.34 L579.21,62.52 L579.83,61.72 L580.42,60.92 L580.99,60.14 L581.54,59.36 L582.07,58.61 L582.58,57.88 L583.06,57.17 L583.52,56.49 L583.95,55.83 L584.35,55.21 L584.71,54.60 L585.06,54.01 L585.39,53.45 L585.72,52.91 L586.05,52.39 L586.40,51.89 L586.75,51.42 L587.10,50.98 L587.45,50.57 L587.80,50.17 L588.15,49.79 L588.50,49.41 L588.85,49.03 L589.20,48.64 L589.56,48.24 L589.91,47.83 L590.27,47.42 L590.63,47.02 L590.99,46.63 L591.36,46.25 L591.72,45.89 L592.08,45.57 L592.44,45.26 L592.80,44.98 L593.16,44.72 L593.52,44.48 L593.88,44.25 L594.24,44.03 L594.60,43.83 L594.95,43.63 L595.30,43.45 L595.66,43.29 L596.00,43.15 L596.35,43.02 L596.70,42.89 L597.05,42.77 L597.40,42.65 L597.75,42.52 L598.13,42.39 L598.53,42.25 L598.95,42.12 L599.36,41.98 L599.76,41.86 L600.11,41.75 L600.41,41.66 L600.63,41.58" stroke="#ff4040" stroke-width="1.0" fill="none"/>
<path d="M444.66,207.13 L445.08,207.13 L445.64,207.13 L446.31,207.13 L447.05,207.13 L447.83,207.14 L448.60,207.14 L449.32,207.13 L449.96,207.13 L450.53,207.12 L451.08,207.12 L451.61,207.11 L452.12,207.11 L452.61,207.09 L453.09,207.07 L453.57,207.03 L454.05,206.98 L454.51,206.91 L454.96,206.82 L455.40,206.73 L455.84,206.62 L456.26,206.50 L456.69,206.37 L457.11,206.24 L457.53,206.10 L457.93,205.97 L458.30,205.85 L458.66,205.73 L459.02,205.61 L459.40,205.45 L459.81,205.25 L460.26,205.01 L460.78,204.70 L461.37,204.31 L462.02,203.86 L462.71,203.36 L463.43,202.81 L464.18,202.25 L464.93,201.66 L465.66,201.08 L466.38,200.51 L467.08,199.94 L467.78,199.35 L468.48,198.75 L469.18,198.15 L469.89,197.53 L470.59,196.92 L471.28,196.31 L471.98,195.71 L472.67,195.10 L473.36,194.48 L474.05,193.85 L474.74,193.23 L475.43,192.62 L476.11,192.02 L476.81,191.45 L477.50,190.91 L478.20,190.40 L478.89,189.94 L479.58,189.50 L480.27,189.08 L480.97,188.66 L481.68,188.23 L482.42,187.80 L483.18,187.33 L483.97,186.84 L484.79,186.33 L485.63,185.81 L486.48,185.28 L487.34,184.76 L488.21,184.23 L489.07,183.73 L489.92,183.23 L490.76,182.76 L491.60,182.28 L492.44,181.81 L493.29,181.35 L494.13,180.90 L494.97,180.46 L495.81,180.05 L496.65,179.66 L497.49,179.29 L498.32,178.94 L499.15,178.60 L499.98,178.28 L500.81,177.98 L501.64,177.70 L502.47,177.44 L503.31,177.20 L504.15,176.99 L504.99,176.80 L505.83,176.63 L506.67,176.48 L507.52,176.35 L508.36,176.23 L509.20,176.11 L510.04,176.00 L510.86,175.90 L511.65,175.82 L512.42,175.74 L513.20,175.68 L514.01,175.62 L514.86,175.57 L515.78,175.52 L516.78,175.48 L517.90,175.44 L519.12,175.43 L520.42,175.42 L521.76,175.42 L523.11,175.41 L524.43,175.39 L525.68,175.35 L526.84,175.27 L527.91,175.16 L528.91,175.02 L529.87,174.86 L530.79,174.69 L531.69,174.50 L532.58,174.32 L533.49,174.13 L534.41,173.95 L535.35,173.78 L536.29,173.61 L537.22,173.44 L538.16,173.26 L539.09,173.08 L540.03,172.90 L540.96,172.71 L541.90,172.52 L542.85,172.32 L543.79,172.10 L544.74,171.88 L545.68,171.66 L546.63,171.44 L547.58,171.22 L548.52,171.00 L549.47,170.79 L550.42,170.59 L551.36,170.39 L552.31,170.19 L553.26,170.00 L554.20,169.80 L555.15,169.61 L556.09,169.43 L557.04,169.24 L557.98,169.05 L558.93,168.87 L559.88,168.69 L560.82,168.51 L561.77,168.34 L562.71,168.16 L563.66,167.98 L564.61,167.80 L565.55,167.63 L566.50,167.46 L567.44,167.29 L568.39,167.11 L569.33,166.94 L570.28,166.77 L571.22,166.59 L572.17,166.40 L573.13,166.21 L574.08,166.01 L575.04,165.81 L576.00,165.61 L576.96,165.41 L577.92,165.20 L578.87,164.98 L579.82,164.76 L580.75,164.53 L581.68,164.28 L582.61,164.03 L583.53,163.77 L584.45,163.51 L585.37,163.27 L586.30,163.04 L587.23,162.83 L588.18,162.63 L589.14,162.45 L590.11,162.28 L591.08,162.12 L592.04,161.97 L592.99,161.83 L593.91,161.71 L594.80,161.60 L595.70,161.50 L596.62,161.43 L597.55,161.37 L598.45,161.32 L599.29,161.28 L600.04,161.24 L600.68,161.21 L601.16,161.19" stroke="#3030ff" stroke-width="1.2" fill="none" stroke-dasharray="4.8,2.9"/>
<path d="M418.93,206.75 L423.19,206.75 L429.09,206.77 L436.15,206.79 L443.86,206.80 L451.71,206.81 L459.21,206.81 L465.86,206.79 L471.15,206.75 L474.90,206.67 L477.51,206.56 L479.35,206.43 L480.80,206.29 L482.22,206.15 L483.99,206.02 L486.48,205.90 L490.07,205.81 L494.68,205.74 L499.94,205.69 L505.75,205.65 L511.99,205.62 L518.56,205.60 L525.37,205.57 L532.30,205.55 L539.26,205.52 L546.79,205.48 L555.24,205.44 L564.18,205.39 L573.17,205.35 L581.77,205.31 L589.56,205.28 L596.09,205.25 L600.93,205.22" stroke="#80e080" stroke-width="1.2" fill="none" stroke-dasharray="3,2" stroke-dashoffset="0"/>
<path d="M418.93,206.69 L423.19,206.69 L429.09,206.71 L436.15,206.73 L443.86,206.75 L451.71,206.76 L459.21,206.75 L465.86,206.73 L471.15,206.69 L474.90,206.61 L477.51,206.50 L479.35,206.38 L480.80,206.24 L482.22,206.09 L483.99,205.96 L486.48,205.84 L490.07,205.75 L494.68,205.68 L499.94,205.63 L505.75,205.59 L511.99,205.56 L518.56,205.54 L525.37,205.51 L532.30,205.49 L539.26,205.46 L546.79,205.42 L555.24,205.38 L564.18,205.33 L573.17,205.29 L581.77,205.25 L589.56,205.22 L596.09,205.19 L600.93,205.16" stroke="#e040e0" stroke-width="1.2" fill="none" stroke-dasharray="3,3" stroke-dashoffset="2"/>
<path d="M418.93,206.75 L423.19,206.75 L429.09,206.77 L436.15,206.79 L443.86,206.80 L451.71,206.81 L459.21,206.81 L465.86,206.79 L471.15,206.75 L474.90,206.67 L477.51,206.56 L479.35,206.43 L480.80,206.29 L482.22,206.15 L483.99,206.02 L486.48,205.90 L490.07,205.81 L494.68,205.74 L499.94,205.69 L505.75,205.65 L511.99,205.62 L518.56,205.60 L525.37,205.57 L532.30,205.55 L539.26,205.52 L546.79,205.48 L555.24,205.44 L564.18,205.39 L573.17,205.35 L581.77,205.31 L589.56,205.28 L596.09,205.25 L600.93,205.22" stroke="#9050b0" stroke-width="1.2" fill="none" stroke-dasharray="2,4" stroke-dashoffset="1"/>
<path d="M419.23,185.49 L419.28,185.25 L419.35,184.91 L419.42,184.52 L419.51,184.07 L419.60,183.60 L419.69,183.11 L419.78,182.57 L419.87,181.96 L419.96,181.32 L420.06,180.69 L420.17,180.13 L420.29,179.69 L420.42,179.37 L420.55,179.13 L420.69,178.96 L420.84,178.84 L421.01,178.74 L421.20,178.65 L421.41,178.57 L421.63,178.52 L421.87,178.49 L422.13,178.48 L422.41,178.49 L422.72,178.50 L423.02,178.52 L423.33,178.55 L423.66,178.60 L424.03,178.65 L424.47,178.72 L424.99,178.80 L425.62,178.88 L426.36,178.98 L427.16,179.09 L427.99,179.21 L428.79,179.34 L429.53,179.47 L430.22,179.61 L430.90,179.78 L431.56,179.96 L432.19,180.13 L432.78,180.27 L433.31,180.37 L433.80,180.43 L434.26,180.46 L434.68,180.46 L435.05,180.45 L435.35,180.44 L435.58,180.43 L491.96,45.47 L493.24,47.38 L494.61,46.48 L530.02,46.48 L585.04,181.18 L586.17,180.14 L588.82,180.43 L600.93,180.43" stroke="#333" stroke-width="0.9" fill="none" stroke-linejoin="round"/>
<path d="M392.2,46.3 H435.3" stroke="#ff6060" stroke-width="1.0" fill="none"/>
<text x="446.0" y="48.80" class="lg" font-size="5.0">Native starch</text>
<path d="M392.2,52.7 H435.3" stroke="#5555ff" stroke-width="1.2" fill="none" stroke-dasharray="6.9,2"/>
<text x="446.0" y="55.20" class="lg" font-size="5.0">retrograde starch</text>
<path d="M392.2,59.3 H435.3" stroke="#9050b0" stroke-width="1.0" fill="none" stroke-dasharray="4,1.5,1,1.5"/>
<text x="446.0" y="61.80" class="lg" font-size="5.0">LA</text>
<path d="M392.2,65.3 H435.3" stroke="#ff50ff" stroke-width="1.0" fill="none" stroke-dasharray="3.4,1.4,6.9,2.8"/>
<text x="446.0" y="67.80" class="lg" font-size="5.0">PA</text>
<path d="M392.2,71.8 H435.3" stroke="#90f090" stroke-width="1.0" fill="none" stroke-dasharray="6.5,1.4,2.8,3.4"/>
<text x="446.0" y="74.30" class="lg" font-size="5.0">MA</text>
<path d="M392.2,78.4 H435.3" stroke="#b0b0e0" stroke-width="1.0" fill="none" stroke-dasharray="0.8,1.2"/>
<text x="446.0" y="80.90" class="lg" font-size="5.0">SA</text>
<path d="M392.2,86.3 H435.3" stroke="#505050" stroke-width="1.0" fill="none"/>
<text x="443.7" y="88.29" class="lg" font-size="4.3">Temperature</text>
<text x="443.7" y="93.88" class="lg" font-size="4.6">(°C)</text>
<path d="M398.5,268.7 H659.5" stroke="#a8a8a8" stroke-width="1.2" fill="none"/>
<path d="M398.5,268.7 V446.2 H659.5 V268.7" stroke="#888888" stroke-width="1.0" fill="none"/>
<text x="394.10" y="445.90" text-anchor="end" class="tk" font-size="4.75">0</text>
<text x="394.10" y="416.80" text-anchor="end" class="tk" font-size="4.75">1000</text>
<text x="394.10" y="387.70" text-anchor="end" class="tk" font-size="4.75">2000</text>
<text x="394.10" y="358.61" text-anchor="end" class="tk" font-size="4.75">3000</text>
<text x="394.10" y="329.51" text-anchor="end" class="tk" font-size="4.75">4000</text>
<text x="394.10" y="300.41" text-anchor="end" class="tk" font-size="4.75">5000</text>
<text x="394.10" y="271.31" text-anchor="end" class="tk" font-size="4.75">6000</text>
<text x="663.70" y="448.81" class="tk" font-size="4.75">40</text>
<text x="663.70" y="419.23" class="tk" font-size="4.75">50</text>
<text x="663.70" y="389.64" class="tk" font-size="4.75">60</text>
<text x="663.70" y="360.06" class="tk" font-size="4.75">70</text>
<text x="663.70" y="330.48" class="tk" font-size="4.75">80</text>
<text x="663.70" y="300.89" class="tk" font-size="4.75">90</text>
<text x="663.70" y="271.31" class="tk" font-size="4.75">100</text>
<text x="432.21" y="455.21" text-anchor="middle" class="tk" font-size="4.75">0</text>
<text x="470.10" y="455.21" text-anchor="middle" class="tk" font-size="4.75">5</text>
<text x="507.98" y="455.21" text-anchor="middle" class="tk" font-size="4.75">10</text>
<text x="545.86" y="455.21" text-anchor="middle" class="tk" font-size="4.75">15</text>
<text x="583.74" y="455.21" text-anchor="middle" class="tk" font-size="4.75">20</text>
<text x="621.62" y="455.21" text-anchor="middle" class="tk" font-size="4.75">25</text>
<text x="659.50" y="455.21" text-anchor="middle" class="tk" font-size="4.75">30</text>
<path d="M396.50,443.29 H398.5 M396.50,414.19 H398.5 M396.50,385.09 H398.5 M396.50,356.00 H398.5 M396.50,326.90 H398.5 M396.50,297.80 H398.5 M396.50,268.70 H398.5 M659.5,446.20 H661.50 M659.5,416.62 H661.50 M659.5,387.03 H661.50 M659.5,357.45 H661.50 M659.5,327.87 H661.50 M659.5,298.28 H661.50 M659.5,268.70 H661.50 M432.21,446.2 V448.20 M470.10,446.2 V448.20 M507.98,446.2 V448.20 M545.86,446.2 V448.20 M583.74,446.2 V448.20 M621.62,446.2 V448.20 M659.50,446.2 V448.20" stroke="#606060" stroke-width="0.8" fill="none"/>
<text transform="translate(368.0,346.0) rotate(-90)" text-anchor="middle" dominant-baseline="central" class="ti">Viscosity (RVU)</text>
<text transform="translate(679.0,351.0) rotate(-90)" text-anchor="middle" dominant-baseline="central" class="ti">Temperature (°C)</text>
<text x="532.2" y="465.5" text-anchor="middle" dominant-baseline="central" class="tb">Time (min)</text>
<text x="352.4" y="254.8" class="pl">(D)</text>
<path d="M477.67,443.00 L477.98,443.00 L478.40,443.00 L478.90,443.01 L479.45,443.01 L480.01,443.01 L480.56,443.01 L481.05,443.01 L481.46,443.00 L481.79,442.99 L482.08,442.99 L482.34,442.99 L482.57,442.99 L482.78,442.98 L482.98,442.95 L483.17,442.91 L483.35,442.85 L483.53,442.80 L483.69,442.76 L483.84,442.72 L483.97,442.66 L484.10,442.56 L484.23,442.40 L484.36,442.17 L484.49,441.84 L484.63,441.41 L484.76,440.90 L484.89,440.32 L485.02,439.69 L485.15,438.99 L485.28,438.24 L485.41,437.45 L485.55,436.63 L485.69,435.75 L485.83,434.82 L485.97,433.84 L486.11,432.82 L486.26,431.75 L486.40,430.64 L486.54,429.50 L486.69,428.33 L486.83,427.12 L486.97,425.85 L487.12,424.53 L487.26,423.18 L487.40,421.81 L487.54,420.44 L487.68,419.08 L487.82,417.74 L487.96,416.40 L488.09,415.04 L488.22,413.67 L488.35,412.30 L488.48,410.95 L488.62,409.64 L488.75,408.36 L488.88,407.15 L489.02,405.99 L489.16,404.89 L489.29,403.82 L489.43,402.78 L489.57,401.77 L489.71,400.79 L489.86,399.82 L490.02,398.86 L490.18,397.95 L490.35,397.12 L490.52,396.33 L490.70,395.54 L490.88,394.74 L491.07,393.87 L491.26,392.91 L491.46,391.82 L491.67,390.58 L491.89,389.23 L492.11,387.79 L492.35,386.29 L492.58,384.75 L492.81,383.21 L493.05,381.68 L493.28,380.20 L493.51,378.75 L493.73,377.28 L493.96,375.81 L494.19,374.34 L494.41,372.88 L494.64,371.45 L494.87,370.06 L495.10,368.71 L495.32,367.40 L495.55,366.11 L495.77,364.86 L496.00,363.63 L496.22,362.43 L496.45,361.26 L496.68,360.12 L496.91,359.02 L497.15,357.97 L497.38,356.96 L497.61,356.00 L497.85,355.06 L498.09,354.14 L498.34,353.22 L498.60,352.29 L498.88,351.34 L499.18,350.37 L499.50,349.38 L499.83,348.39 L500.16,347.40 L500.51,346.41 L500.85,345.44 L501.20,344.49 L501.54,343.57 L501.87,342.67 L502.19,341.78 L502.51,340.91 L502.84,340.05 L503.17,339.21 L503.52,338.39 L503.88,337.59 L504.26,336.82 L504.67,336.06 L505.09,335.32 L505.52,334.59 L505.96,333.89 L506.42,333.22 L506.90,332.57 L507.39,331.97 L507.90,331.41 L508.43,330.88 L508.99,330.39 L509.56,329.94 L510.15,329.52 L510.75,329.13 L511.35,328.78 L511.94,328.48 L512.52,328.21 L513.09,327.98 L513.66,327.79 L514.23,327.63 L514.79,327.52 L515.36,327.44 L515.93,327.40 L516.50,327.39 L517.07,327.42 L517.64,327.49 L518.22,327.60 L518.80,327.74 L519.38,327.92 L519.96,328.14 L520.54,328.38 L521.12,328.65 L521.69,328.93 L522.25,329.25 L522.81,329.62 L523.37,330.01 L523.92,330.43 L524.48,330.86 L525.03,331.31 L525.59,331.75 L526.16,332.19 L526.73,332.64 L527.31,333.09 L527.88,333.56 L528.46,334.03 L529.05,334.50 L529.63,334.97 L530.21,335.44 L530.78,335.89 L531.35,336.33 L531.92,336.77 L532.49,337.20 L533.05,337.63 L533.62,338.05 L534.19,338.48 L534.75,338.90 L535.33,339.32 L535.91,339.75 L536.50,340.18 L537.10,340.61 L537.69,341.04 L538.28,341.46 L538.86,341.87 L539.42,342.27 L539.95,342.64 L540.46,342.99 L540.96,343.34 L541.44,343.68 L541.91,344.00 L542.36,344.30 L542.79,344.58 L543.20,344.84 L543.58,345.08 L543.92,345.31 L544.20,345.55 L544.45,345.77 L544.69,345.97 L544.93,346.13 L545.19,346.24 L545.49,346.28 L545.86,346.25 L546.28,346.12 L546.76,345.92 L547.26,345.66 L547.80,345.34 L548.35,344.98 L548.91,344.59 L549.47,344.18 L550.02,343.77 L550.57,343.34 L551.14,342.84 L551.70,342.32 L552.28,341.77 L552.85,341.23 L553.43,340.69 L554.00,340.19 L554.57,339.73 L555.13,339.32 L555.69,338.95 L556.25,338.60 L556.80,338.27 L557.36,337.94 L557.92,337.61 L558.48,337.27 L559.04,336.91 L559.60,336.52 L560.17,336.13 L560.74,335.74 L561.30,335.34 L561.87,334.93 L562.44,334.51 L563.01,334.10 L563.59,333.68 L564.16,333.25 L564.74,332.83 L565.31,332.40 L565.89,331.97 L566.47,331.53 L567.05,331.08 L567.63,330.62 L568.21,330.16 L568.79,329.68 L569.36,329.20 L569.94,328.71 L570.52,328.22 L571.10,327.71 L571.68,327.19 L572.25,326.66 L572.83,326.11 L573.40,325.55 L573.97,324.96 L574.54,324.36 L575.11,323.75 L575.67,323.13 L576.24,322.51 L576.81,321.89 L577.37,321.28 L577.94,320.68 L578.51,320.08 L579.08,319.48 L579.64,318.88 L580.21,318.27 L580.78,317.66 L581.35,317.05 L581.92,316.42 L582.49,315.79 L583.07,315.14 L583.65,314.49 L584.23,313.84 L584.81,313.18 L585.39,312.52 L585.97,311.85 L586.54,311.18 L587.11,310.52 L587.68,309.85 L588.25,309.18 L588.81,308.50 L589.38,307.82 L589.95,307.14 L590.52,306.44 L591.09,305.74 L591.66,305.03 L592.24,304.32 L592.81,303.60 L593.39,302.87 L593.97,302.13 L594.55,301.38 L595.13,300.63 L595.71,299.86 L596.29,299.07 L596.88,298.25 L597.48,297.41 L598.07,296.56 L598.66,295.73 L599.23,294.91 L599.79,294.13 L600.33,293.40 L600.84,292.72 L601.34,292.05 L601.81,291.41 L602.28,290.80 L602.74,290.22 L603.20,289.67 L603.65,289.15 L604.12,288.66 L604.59,288.22 L605.05,287.82 L605.51,287.46 L605.97,287.13 L606.44,286.82 L606.90,286.52 L607.36,286.23 L607.83,285.93 L608.30,285.62 L608.79,285.33 L609.28,285.04 L609.76,284.76 L610.24,284.50 L610.72,284.25 L611.18,284.01 L611.62,283.80 L612.06,283.61 L612.52,283.43 L612.97,283.26 L613.41,283.12 L613.82,282.99 L614.18,282.87 L614.49,282.77 L614.72,282.70" stroke="#ee4242" stroke-width="1.15" fill="none"/>
<path d="M461.00,443.00 L461.42,443.00 L461.98,443.00 L462.65,443.01 L463.39,443.01 L464.16,443.01 L464.93,443.01 L465.66,443.01 L466.31,443.00 L466.88,443.00 L467.41,443.02 L467.92,443.04 L468.41,443.06 L468.91,443.06 L469.42,443.03 L469.96,442.97 L470.55,442.85 L471.18,442.69 L471.84,442.47 L472.52,442.22 L473.22,441.94 L473.94,441.65 L474.66,441.34 L475.37,441.04 L476.08,440.76 L476.78,440.48 L477.49,440.21 L478.21,439.93 L478.92,439.65 L479.64,439.37 L480.35,439.07 L481.06,438.76 L481.76,438.43 L482.46,438.09 L483.16,437.72 L483.85,437.34 L484.54,436.96 L485.23,436.56 L485.91,436.17 L486.60,435.78 L487.29,435.40 L487.98,435.03 L488.67,434.66 L489.36,434.30 L490.05,433.93 L490.74,433.56 L491.43,433.20 L492.13,432.83 L492.82,432.47 L493.53,432.09 L494.24,431.71 L494.95,431.33 L495.66,430.94 L496.38,430.57 L497.09,430.20 L497.80,429.85 L498.51,429.53 L499.20,429.22 L499.90,428.94 L500.59,428.68 L501.28,428.42 L501.96,428.17 L502.65,427.93 L503.34,427.68 L504.04,427.43 L504.73,427.17 L505.43,426.91 L506.14,426.65 L506.84,426.39 L507.54,426.14 L508.24,425.89 L508.95,425.65 L509.64,425.42 L510.34,425.21 L511.03,425.00 L511.72,424.81 L512.41,424.62 L513.10,424.44 L513.79,424.26 L514.48,424.08 L515.17,423.91 L515.86,423.74 L516.55,423.58 L517.24,423.41 L517.93,423.26 L518.62,423.10 L519.32,422.96 L520.01,422.82 L520.70,422.69 L521.40,422.56 L522.10,422.44 L522.80,422.33 L523.51,422.22 L524.21,422.12 L524.91,422.03 L525.61,421.95 L526.31,421.87 L526.99,421.81 L527.66,421.77 L528.32,421.74 L528.98,421.71 L529.65,421.69 L530.35,421.66 L531.07,421.63 L531.84,421.58 L532.65,421.53 L533.49,421.49 L534.36,421.44 L535.25,421.39 L536.16,421.33 L537.09,421.26 L538.02,421.17 L538.96,421.06 L539.92,420.93 L540.89,420.77 L541.88,420.60 L542.88,420.42 L543.89,420.23 L544.90,420.03 L545.91,419.84 L546.92,419.66 L547.92,419.49 L548.92,419.31 L549.93,419.13 L550.93,418.95 L551.94,418.77 L552.94,418.59 L553.95,418.41 L554.95,418.24 L555.95,418.06 L556.94,417.89 L557.94,417.71 L558.93,417.54 L559.92,417.36 L560.92,417.19 L561.91,417.02 L562.90,416.84 L563.90,416.66 L564.89,416.48 L565.89,416.31 L566.89,416.13 L567.88,415.95 L568.88,415.77 L569.87,415.59 L570.86,415.41 L571.85,415.24 L572.83,415.07 L573.81,414.91 L574.79,414.74 L575.78,414.57 L576.76,414.40 L577.75,414.21 L578.74,414.02 L579.73,413.81 L580.74,413.59 L581.74,413.37 L582.75,413.13 L583.76,412.90 L584.76,412.66 L585.77,412.42 L586.77,412.18 L587.77,411.95 L588.76,411.71 L589.76,411.47 L590.75,411.22 L591.74,410.98 L592.74,410.74 L593.73,410.50 L594.72,410.26 L595.72,410.03 L596.71,409.79 L597.71,409.54 L598.71,409.31 L599.70,409.07 L600.70,408.85 L601.69,408.65 L602.68,408.46 L603.69,408.29 L604.73,408.13 L605.78,407.99 L606.82,407.86 L607.84,407.74 L608.81,407.63 L609.73,407.53 L610.56,407.44 L611.33,407.37 L612.07,407.31 L612.76,407.27 L613.40,407.23 L613.98,407.21 L614.49,407.19 L614.91,407.17 L615.26,407.15" stroke="#3030ff" stroke-width="1.15" fill="none" stroke-dasharray="4.8,2.9"/>
<path d="M432.97,442.85 L437.87,442.86 L444.69,442.87 L452.83,442.89 L461.71,442.90 L470.75,442.91 L479.33,442.90 L486.89,442.89 L492.82,442.85 L496.99,442.79 L499.90,442.71 L501.92,442.61 L503.43,442.50 L504.79,442.39 L506.39,442.29 L508.59,442.20 L511.76,442.13 L515.75,442.07 L520.11,442.04 L524.84,442.01 L529.92,441.99 L535.34,441.97 L541.07,441.95 L547.11,441.93 L553.43,441.91 L560.61,441.88 L568.91,441.85 L577.83,441.82 L586.91,441.79 L595.66,441.76 L603.61,441.73 L610.28,441.71 L615.18,441.69" stroke="#5050d0" stroke-width="1.2" fill="none" stroke-dasharray="4,2" stroke-dashoffset="0"/>
<path d="M432.97,442.82 L437.87,442.83 L444.69,442.84 L452.83,442.86 L461.71,442.87 L470.75,442.88 L479.33,442.87 L486.89,442.86 L492.82,442.82 L496.99,442.77 L499.90,442.69 L501.92,442.59 L503.43,442.49 L504.79,442.38 L506.39,442.28 L508.59,442.20 L511.76,442.13 L515.75,442.07 L520.11,442.04 L524.84,442.00 L529.92,441.98 L535.34,441.96 L541.07,441.94 L547.11,441.92 L553.43,441.89 L560.61,441.86 L568.91,441.83 L577.83,441.80 L586.91,441.76 L595.66,441.73 L603.61,441.70 L610.28,441.68 L615.18,441.66" stroke="#e050e0" stroke-width="1.2" fill="none" stroke-dasharray="2,4" stroke-dashoffset="1.5"/>
<path d="M432.97,442.85 L437.87,442.86 L444.69,442.87 L452.83,442.89 L461.71,442.90 L470.75,442.91 L479.33,442.90 L486.89,442.89 L492.82,442.85 L496.99,442.79 L499.90,442.71 L501.92,442.61 L503.43,442.50 L504.79,442.39 L506.39,442.29 L508.59,442.20 L511.76,442.13 L515.75,442.07 L520.11,442.04 L524.84,442.01 L529.92,441.99 L535.34,441.97 L541.07,441.95 L547.11,441.93 L553.43,441.91 L560.61,441.88 L568.91,441.85 L577.83,441.82 L586.91,441.79 L595.66,441.76 L603.61,441.73 L610.28,441.71 L615.18,441.69" stroke="#a0f0a0" stroke-width="1.2" fill="none" stroke-dasharray="1,5" stroke-dashoffset="4"/>
<path d="M433.27,421.35 L433.32,421.09 L433.39,420.74 L433.46,420.31 L433.55,419.86 L433.64,419.41 L433.73,418.98 L433.82,418.57 L433.91,418.15 L434.00,417.72 L434.11,417.31 L434.22,416.93 L434.34,416.62 L434.46,416.36 L434.59,416.14 L434.73,415.96 L434.89,415.81 L435.05,415.69 L435.24,415.58 L435.45,415.50 L435.68,415.45 L435.92,415.42 L436.18,415.42 L436.46,415.42 L436.76,415.43 L437.07,415.46 L437.38,415.50 L437.71,415.55 L438.08,415.61 L438.51,415.67 L439.03,415.73 L439.67,415.78 L440.41,415.82 L441.21,415.86 L442.04,415.91 L442.84,415.96 L443.58,416.02 L444.27,416.11 L444.95,416.20 L445.61,416.31 L446.24,416.41 L446.83,416.49 L447.37,416.56 L447.86,416.60 L448.32,416.61 L448.74,416.62 L449.11,416.62 L449.41,416.62 L449.64,416.62 L505.70,281.86 L506.99,284.38 L508.35,283.52 L543.51,283.52 L600.03,417.36 L601.16,416.32 L603.81,416.62 L615.18,416.62" stroke="#262626" stroke-width="1.0" fill="none" stroke-linejoin="round"/>
<path d="M410.5,278.5 H452.1" stroke="#ff5050" stroke-width="1.0" fill="none"/>
<text x="465.0" y="280.91" class="lg" font-size="4.7">Native starch</text>
<path d="M410.5,284.4 H452.1" stroke="#4040e8" stroke-width="1.2" fill="none" stroke-dasharray="6.6,2.6"/>
<text x="465.0" y="286.81" class="lg" font-size="4.7">retrograde starch</text>
<path d="M410.5,290.3 H452.1" stroke="#a0f0a0" stroke-width="1.0" fill="none" stroke-dasharray="3.3,1.5"/>
<text x="465.0" y="292.71" class="lg" font-size="4.7">LA</text>
<path d="M410.5,296.0 H452.1" stroke="#f080f0" stroke-width="1.2" fill="none" stroke-dasharray="4.6,2.6"/>
<text x="465.0" y="298.41" class="lg" font-size="4.7">PA</text>
<path d="M410.5,301.6 H452.1" stroke="#6060c0" stroke-width="1.2" fill="none" stroke-dasharray="3.3,1.3,7.2,3.3"/>
<text x="465.0" y="304.01" class="lg" font-size="4.7">MA</text>
<path d="M410.5,307.4 H452.1" stroke="#f0c0c0" stroke-width="1.0" fill="none" stroke-dasharray="0.8,1.2"/>
<text x="465.0" y="309.81" class="lg" font-size="4.7">SA</text>
<path d="M410.5,314.4 H452.1" stroke="#444444" stroke-width="1.1" fill="none"/>
<text x="461.1" y="317.82" class="lg" font-size="4.4">Temperature</text>
<text x="461.1" y="323.02" class="lg" font-size="4.4">(°C)</text>
</svg>
</body></html>
